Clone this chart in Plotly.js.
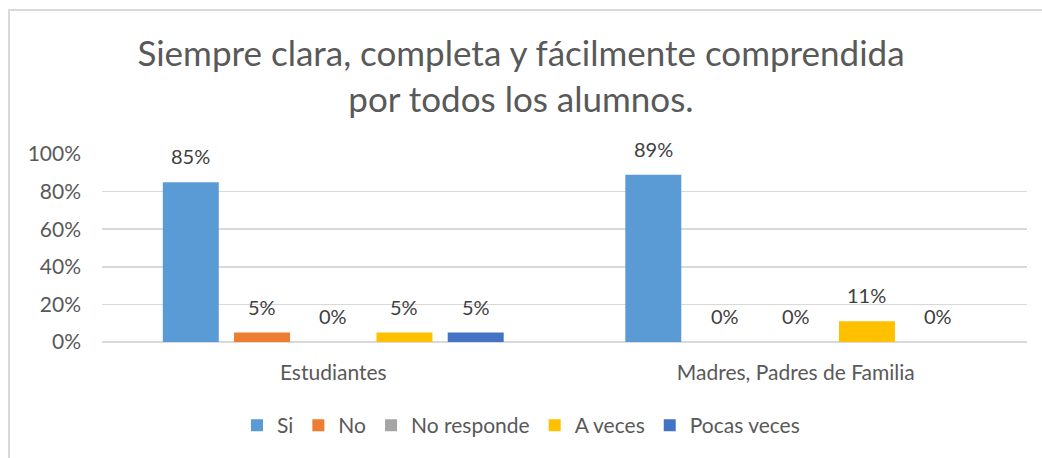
<!DOCTYPE html>
<html>
<head>
<meta charset="utf-8">
<script src="https://cdn.plot.ly/plotly-3.0.1.min.js"></script>
<style>
html,body{margin:0;padding:0;background:#fff;}
#wrap{position:relative;width:1042px;height:458px;overflow:hidden;}
#chart{position:absolute;left:0;top:0;width:1042px;height:458px;}
#frame{position:absolute;left:8px;top:9px;right:-5px;bottom:-5px;border-top:2px solid #D9D9D9;border-left:2px solid #D9D9D9;pointer-events:none;}
</style>
</head>
<body>
<div id="wrap"><div id="chart"></div><div id="frame"></div></div>
<script>
const categories = ["Estudiantes", "Madres, Padres de Familia"];
const seriesNames = ["Si", "No", "No responde", "A veces", "Pocas veces"];
const si = [85, 89];
const no = [5, 0];
const noResponde = [0, 0];
const aVeces = [5, 11];
const pocasVeces = [5, 0];
const yTicks = [0, 20, 40, 60, 80, 100];

const seriesValues = [si, no, noResponde, aVeces, pocasVeces];
const colors = ["#5B9BD5", "#ED7D31", "#A5A5A5", "#FFC000", "#4472C4"];
const font = "Lato, 'Open Sans', sans-serif";
const bargap = 0.23;
const nS = seriesValues.length;
const step = (1 - bargap) / nS;

const traces = seriesValues.map((vals, i) => ({
  type: "bar",
  name: seriesNames[i],
  x: categories,
  y: vals,
  marker: {color: colors[i], line: {width: 0}},
  hoverinfo: "none"
}));

const annotations = [];
seriesValues.forEach((vals, si_) => {
  vals.forEach((v, ci) => {
    annotations.push({
      x: ci + (si_ - (nS - 1) / 2) * step,
      y: v,
      xref: "x", yref: "y",
      text: v + "%",
      showarrow: false,
      yanchor: "bottom",
      yshift: 12,
      font: {family: font, size: 20, color: "#404040"}
    });
  });
});

const layout = {
  width: 1042, height: 458,
  margin: {l: 102, r: 15, t: 154, b: 116},
  paper_bgcolor: "#fff", plot_bgcolor: "#fff",
  font: {family: font, color: "#595959"},
  title: {
    text: "Siempre clara, completa y fácilmente comprendida<br>por todos los alumnos.",
    font: {family: font, size: 35, color: "#595959"},
    x: 0.5, xanchor: "center",
    y: 0.855, yanchor: "middle", yref: "container"
  },
  barmode: "group",
  bargap: bargap,
  bargroupgap: 0.214,
  xaxis: {
    type: "category",
    tickfont: {family: font, size: 21, color: "#595959"},
    showgrid: false, showline: false, ticks: "",
    ticklabelstandoff: 16
  },
  yaxis: {
    range: [0, 100],
    tickvals: yTicks,
    ticktext: yTicks.map(v => v + "%"),
    tickfont: {family: font, size: 21, color: "#595959"},
    gridcolor: "#D9D9D9", gridwidth: 1.5,
    zeroline: true, zerolinecolor: "#D9D9D9", zerolinewidth: 1.5,
    showline: false, ticks: "",
    ticklabelstandoff: 20,
    fixedrange: true
  },
  showlegend: true,
  legend: {
    orientation: "h",
    x: 0.5, xanchor: "center", xref: "container",
    y: 0.026, yanchor: "bottom", yref: "container",
    font: {family: font, size: 21, color: "#595959"},
    traceorder: "normal",
    itemwidth: 30
  },
  annotations: annotations
};

Plotly.newPlot("chart", traces, layout, {displayModeBar: false, staticPlot: true});
</script>
</body>
</html>
